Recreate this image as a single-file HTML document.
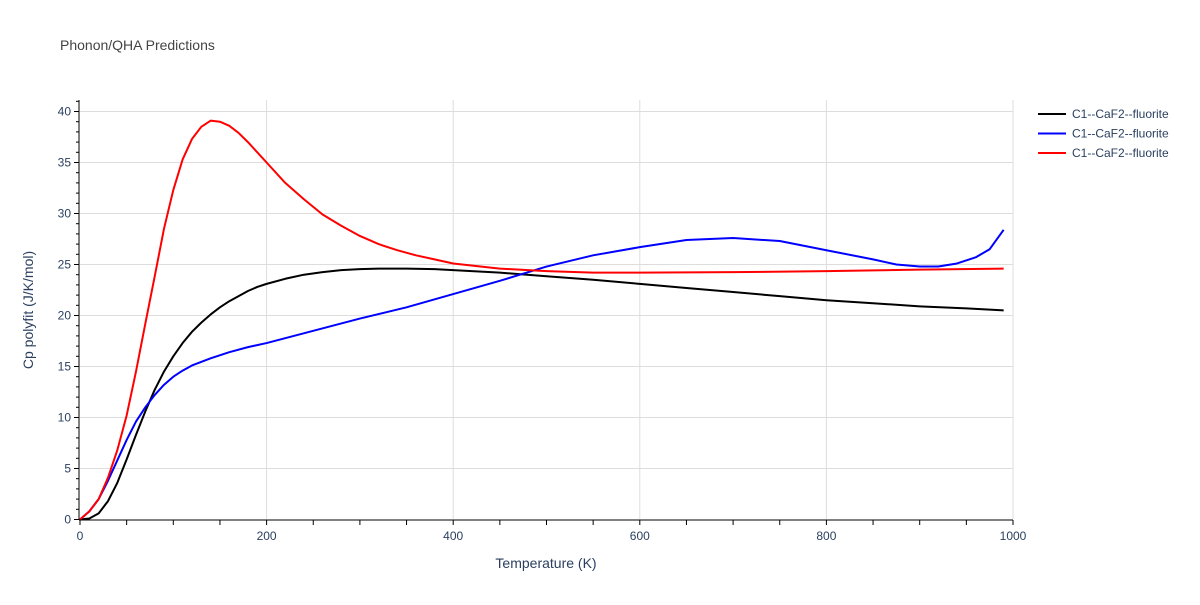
<!DOCTYPE html>
<html><head><meta charset="utf-8"><style>
body{margin:0;background:#fff;font-family:"Liberation Sans",sans-serif}
</style></head><body>
<svg id="c" width="1200" height="600" xmlns="http://www.w3.org/2000/svg" font-family="Liberation Sans, sans-serif">
<text x="60" y="50" font-size="14" fill="#444">Phonon/QHA Predictions</text>
<g id="grid"></g>
<g id="series"></g>
<g id="axes"></g>
<text x="546" y="568" font-size="14" fill="#2a3f5f" text-anchor="middle">Temperature (K)</text>
<text transform="translate(33,310) rotate(-90)" font-size="14" fill="#2a3f5f" text-anchor="middle">Cp polyfit (J/K/mol)</text>
<g id="legend"></g>
</svg>
<script>
const blackT=[0,10,20,30,40,50,60,70,80,90,100,110,120,130,140,150,160,170,180,190,200,220,240,260,280,300,320,350,380,400,450,500,550,600,650,700,750,800,850,900,950,990];
const blackV=[0,0.1,0.6,1.8,3.6,5.9,8.3,10.6,12.7,14.5,16,17.3,18.4,19.3,20.1,20.8,21.4,21.9,22.4,22.8,23.1,23.6,24.0,24.25,24.45,24.55,24.6,24.6,24.55,24.45,24.2,23.85,23.5,23.1,22.7,22.3,21.9,21.5,21.2,20.9,20.7,20.5];
const blueT=[0,10,20,30,40,50,60,70,80,90,100,110,120,140,160,180,200,250,300,350,400,450,500,550,600,650,700,750,800,850,875,900,920,940,960,975,990];
const blueV=[0,0.8,2.0,3.8,5.8,7.8,9.6,11.0,12.2,13.2,14.0,14.6,15.1,15.8,16.4,16.9,17.3,18.5,19.7,20.8,22.1,23.4,24.8,25.9,26.7,27.4,27.6,27.3,26.4,25.5,25.0,24.8,24.8,25.1,25.7,26.5,28.4];
const redT=[0,10,20,30,40,50,60,70,80,90,100,110,120,130,140,150,160,170,180,200,220,240,260,280,300,320,340,360,380,400,450,500,550,600,700,800,900,990];
const redV=[0,0.8,2.0,4.1,6.8,10.2,14.5,19.2,23.8,28.5,32.3,35.3,37.3,38.5,39.1,39.0,38.6,37.9,37.0,35.0,33.0,31.4,29.9,28.8,27.8,27.0,26.4,25.9,25.5,25.1,24.6,24.35,24.2,24.2,24.25,24.35,24.5,24.6];
const xTicks=[0,200,400,600,800,1000];
const yTicks=[0,5,10,15,20,25,30,35,40];
const legendLabels=["C1--CaF2--fluorite","C1--CaF2--fluorite","C1--CaF2--fluorite"];
const colors=["#000000","#0000ff","#ff0000"];
const X=v=>80+v*0.933, Y=v=>519.5-v*10.2;
const NS="http://www.w3.org/2000/svg";
function mk(p,t,a){const e=document.createElementNS(NS,t);for(const k in a)e.setAttribute(k,a[k]);document.getElementById(p).appendChild(e);return e;}
xTicks.forEach(t=>{if(t>0){const l=mk('grid','line',{x1:X(t),x2:X(t),y1:100,y2:519,stroke:'#ddd'});}
 const tx=mk('axes','text',{x:X(t),y:540,'font-size':12,fill:'#2a3f5f','text-anchor':'middle'});tx.textContent=t;});
for(let t=0;t<=1000;t+=50){const l=mk('axes','line',{x1:X(t),x2:X(t),y1:520,y2:525,stroke:'#000'});}
yTicks.forEach(t=>{if(t>0){const l=mk('grid','line',{x1:80,x2:1013,y1:Y(t),y2:Y(t),stroke:'#ddd'});}
 const tx=mk('axes','text',{x:71,y:Y(t)+4,'font-size':12,fill:'#2a3f5f','text-anchor':'end'});tx.textContent=t;});
for(let t=0;t<=41;t++){const l=mk('axes','line',{x1:t%5?76:74,x2:79,y1:Y(t),y2:Y(t),stroke:'#000'});}
let a=mk('axes','line',{x1:79,x2:79,y1:100,y2:520,stroke:'#000'});
a=mk('axes','line',{x1:79,x2:1013,y1:520,y2:520,stroke:'#000'});
[[blackT,blackV],[blueT,blueV],[redT,redV]].forEach((s,i)=>{
 const p=mk('series','polyline',{points:s[0].map((t,j)=>X(t)+','+Y(s[1][j])).join(' '),fill:'none',stroke:colors[i],'stroke-width':2,'stroke-linejoin':'round'});
 
 const l=mk('legend','line',{x1:1038,x2:1066,y1:114+i*19.5,y2:114+i*19.5,stroke:colors[i],'stroke-width':2});
 
 const tx=mk('legend','text',{x:1072,y:118+i*19.5,'font-size':12,fill:'#2a3f5f'});tx.textContent=legendLabels[i];
 
});
</script>
</body></html>
